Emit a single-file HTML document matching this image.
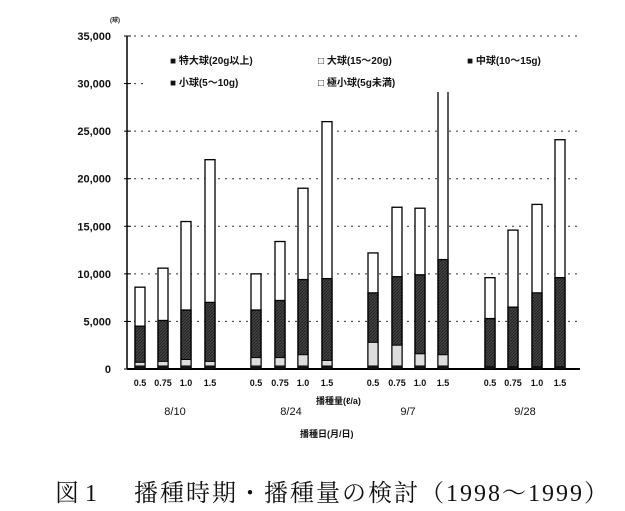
<!DOCTYPE html>
<html><head><meta charset="utf-8"><style>
html,body{margin:0;padding:0;background:#fff;width:625px;height:511px;overflow:hidden}
text{font-family:"Liberation Sans","Noto Sans CJK JP",sans-serif;fill:#111}
</style></head><body>
<svg id="s" width="625" height="511" xmlns="http://www.w3.org/2000/svg">
<defs><pattern id="h" width="3" height="3" patternUnits="userSpaceOnUse"><rect width="3" height="3" fill="#444"/><path d="M0 3L3 0" stroke="#222" stroke-width="1"/></pattern></defs>
<g id="g"></g>
<rect x="145" y="50" width="435" height="42" fill="#fff"/>
<text x="110" y="22" font-size="6" font-weight="bold">(球)</text>
<text x="170" y="64" font-size="10" font-weight="bold">■ 特大球(20g以上)</text>
<text x="318" y="64" font-size="10" font-weight="bold">□ 大球(15～20g)</text>
<text x="467" y="64" font-size="10" font-weight="bold">■ 中球(10～15g)</text>
<text x="170" y="86" font-size="10" font-weight="bold">■ 小球(5～10g)</text>
<text x="318" y="86" font-size="10" font-weight="bold">□ 極小球(5g未満)</text>
<text x="316" y="404" font-size="9" font-weight="bold">播種量(ℓ/a)</text>
<text x="300" y="437" font-size="9" font-weight="bold">播種日(月/日)</text>
<text x="175" y="415" font-size="11" text-anchor="middle">8/10</text>
<text x="291" y="415" font-size="11" text-anchor="middle">8/24</text>
<text x="408" y="415" font-size="11" text-anchor="middle">9/7</text>
<text x="525" y="415" font-size="11" text-anchor="middle">9/28</text>
<text x="55" y="501" font-size="24" style="font-family:'Liberation Serif','Noto Serif CJK SC',serif">図 1</text>
<text x="134" y="501" font-size="24" textLength="474" lengthAdjust="spacing" style="font-family:'Liberation Serif','Noto Serif CJK SC',serif">播種時期・播種量の検討（1998～1999）</text>
</svg>
<script>
var g=document.getElementById('g'),h='';
var y0=369,k=(369-36)/35000;
function Y(v){return y0-v*k;}
for(var i=0;i<=7;i++){var v=i*5000,y=Y(v);
 if(i>0)h+='<line x1="127" x2="580" y1="'+y+'" y2="'+y+'" stroke="#333" stroke-dasharray="2,5"/>';
 h+='<line x1="124" x2="131" y1="'+y+'" y2="'+y+'" stroke="#000"/>';
 h+='<text x="111" y="'+(y+4)+'" font-size="11" font-weight="bold" text-anchor="end">'+(v?v.toLocaleString('en-US'):'0')+'</text>';}
h+='<line x1="127" x2="127" y1="36" y2="369" stroke="#000" stroke-width="1.5"/>';
h+='<line x1="127" x2="580" y1="369" y2="369" stroke="#000" stroke-width="2"/>';
var xs=[140,163,186,210,256,280,303,327,373,397,420,443,490,513,537,560];
var tot=[8600,10600,15500,22000,10000,13400,19000,26000,12200,17000,16900,29300,9600,14600,17300,24100];
var dk=[4500,5100,6200,7000,6200,7200,9400,9500,8000,9700,9900,11500,5300,6500,8000,9600];
var lt=[700,800,1000,800,1200,1200,1500,900,2800,2500,1600,1500,0,0,0,0];
var labs=['0.5','0.75','1.0','1.5'];
for(var j=0;j<16;j++){var x=xs[j]-5;
 h+='<rect x="'+x+'" y="'+Y(tot[j])+'" width="10" height="'+(tot[j]*k)+'" fill="#fff" stroke="#000" stroke-width="1.3"/>';
 h+='<rect x="'+x+'" y="'+Y(dk[j])+'" width="10" height="'+(dk[j]*k)+'" fill="url(#h)" stroke="#000" stroke-width="1.3"/>';
 if(lt[j])h+='<rect x="'+x+'" y="'+Y(lt[j])+'" width="10" height="'+(lt[j]*k-3)+'" fill="#ddd" stroke="#000"/>';
 h+='<rect x="'+x+'" y="'+(y0-3)+'" width="10" height="3" fill="#111"/>';
 h+='<text x="'+xs[j]+'" y="386" font-size="9" font-weight="bold" text-anchor="middle">'+labs[j%4]+'</text>';}
g.innerHTML=h;
</script>
</body></html>
